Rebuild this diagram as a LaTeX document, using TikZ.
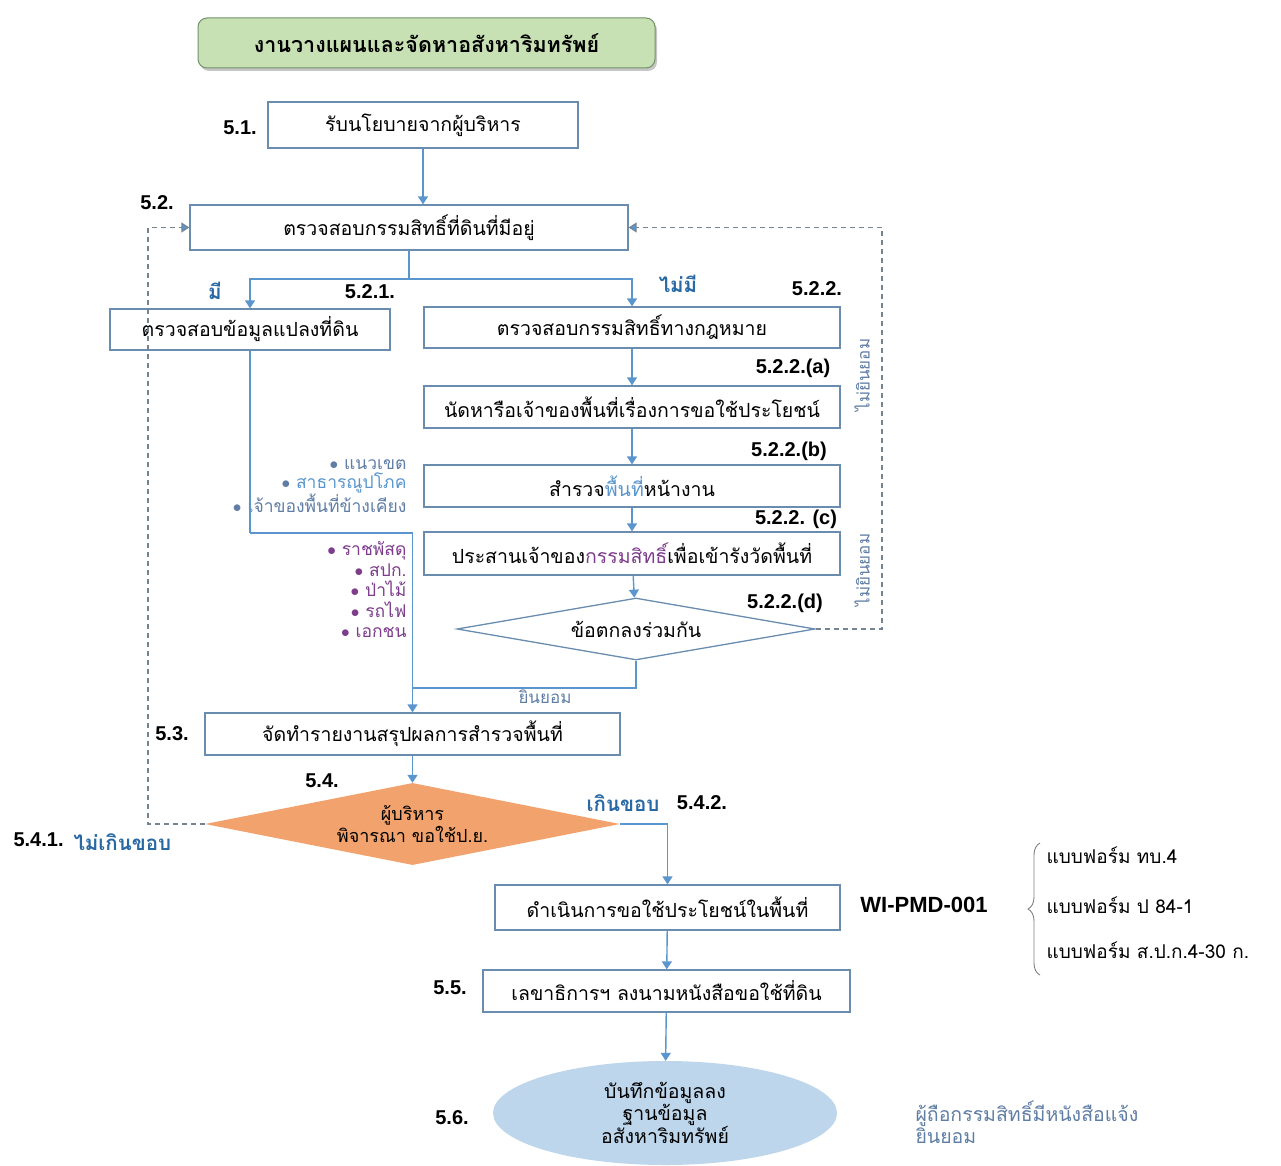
\documentclass[tikz,border=0pt]{standalone}
\usepackage{fontspec}
\setmainfont[Script=Thai]{Loma}
\newfontfamily\numfont{Liberation Sans}
\definecolor{boxline}{RGB}{105, 140, 175}
\definecolor{flowblue}{RGB}{90, 150, 205}
\definecolor{labelblue}{RGB}{40, 105, 165}
\definecolor{softblue}{RGB}{95, 125, 165}
\definecolor{ownerpurple}{RGB}{125, 60, 140}
\definecolor{titlegreen}{RGB}{200, 225, 180}
\definecolor{titleedge}{RGB}{115, 145, 105}
\definecolor{decideorange}{RGB}{242, 162, 108}
\definecolor{recordblue}{RGB}{190, 214, 236}
\usetikzlibrary{shapes.geometric, arrows.meta, shadows, decorations.pathreplacing}
\newcommand{\flowsize}{\fontsize{19.5}{22}\selectfont}

\begin{document}
\begin{tikzpicture}[x=1pt, y=-1pt,
  stepbox/.style={draw=boxline, line width=1.3pt, fill=white, inner sep=0pt, font=\flowsize},
  flow/.style={draw=flowblue, line width=1.4pt},
  flowarrow/.style={flow, -{Triangle[width=10pt, length=8pt]}},
  backflow/.style={draw=gray!60!boxline, line width=1.1pt, dash pattern=on 5pt off 4pt, -{Triangle[width=10pt, length=8pt, fill=flowblue]}},
  steplabel/.style={font=\numfont\bfseries\fontsize{20}{22}\selectfont},
  sublabel/.style={font=\numfont\bfseries\fontsize{20}{22}\selectfont},
  branchlabel/.style={font=\bfseries\fontsize{20.5}{22}\selectfont, text=labelblue}]
  \path[use as bounding box] (0,0) rectangle (1281,1166);

  % Title
  \node[draw=titleedge, fill=titlegreen, rounded corners=9pt, line width=1pt, minimum width=457pt, minimum height=50pt,
        drop shadow={opacity=0.45, shadow xshift=2pt, shadow yshift=-3pt},
        font=\bfseries\fontsize{21.5}{24}\selectfont] (title) at (426.5, 43) {งานวางแผนและจัดหาอสังหาริมทรัพย์};

  % 5.1 and 5.2
  \node[stepbox, minimum width=310pt, minimum height=46pt] (s51) at (423, 125) {รับนโยบายจากผู้บริหาร};
  \node[steplabel] (n51) at (240, 128) {5.1.};
  \node[stepbox, minimum width=438pt, minimum height=45pt] (s52) at (409, 227.5) {ตรวจสอบกรรมสิทธิ์ที่ดินที่มีอยู่};
  \node[steplabel] (n52) at (157, 203) {5.2.};

  % 5.2.1 / 5.2.2 branches
  \node[stepbox, minimum width=280pt, minimum height=41pt] (s521) at (250, 329.5) {ตรวจสอบข้อมูลแปลงที่ดิน};
  \node[steplabel] (n521) at (370, 292) {5.2.1.};
  \node[branchlabel] (yes) at (215, 291) {มี};
  \node[stepbox, minimum width=416pt, minimum height=41pt] (s522) at (632, 327.5) {ตรวจสอบกรรมสิทธิ์ทางกฎหมาย};
  \node[steplabel] (n522) at (817, 289) {5.2.2.};
  \node[branchlabel] (no) at (678, 284) {ไม่มี};

  \node[stepbox, minimum width=416pt, minimum height=42pt] (s522a) at (632, 407) {นัดหารือเจ้าของพื้นที่เรื่องการขอใช้ประโยชน์};
  \node[sublabel] (n522a) at (793, 368) {5.2.2.(a)};
  \node[stepbox, minimum width=416pt, minimum height=42pt] (s522b) at (632, 486) {สำรวจ\textcolor{flowblue}{พื้นที่}หน้างาน};
  \node[sublabel] (n522b) at (789, 451) {5.2.2.(b)};
  \node[stepbox, minimum width=416pt, minimum height=43pt] (s522c) at (632, 553.5) {ประสานเจ้าของ\textcolor{ownerpurple}{กรรมสิทธิ์}เพื่อเข้ารังวัดพื้นที่};
  \node[sublabel] (n522c) at (796, 519) {5.2.2. (c)};
  \node[stepbox, shape=diamond, aspect=5.77, minimum width=358pt, minimum height=62pt] (s522d) at (636, 629) {ข้อตกลงร่วมกัน};
  \node[sublabel] (n522d) at (785, 603) {5.2.2.(d)};

  % Side notes
  \node[anchor=east, align=right, font=\fontsize{17.5}{19}\selectfont, text=softblue] (survey) at (410, 486)
    {$\bullet$ แนวเขต\\ $\bullet$ \textcolor{flowblue}{สาธารณูปโภค}\\ $\bullet$ เจ้าของพื้นที่ข้างเคียง};
  \node[anchor=east, align=right, font=\fontsize{17.5}{20.5}\selectfont, text=ownerpurple] (owners) at (410, 590)
    {$\bullet$ ราชพัสดุ\\ $\bullet$ สปก.\\ $\bullet$ ป่าไม้\\ $\bullet$ รถไฟ\\ $\bullet$ เอกชน};
  \node[font=\fontsize{17}{19}\selectfont, text=softblue, rotate=90] (refuse1) at (862, 375) {ไม่ยินยอม};
  \node[font=\fontsize{17}{19}\selectfont, text=softblue, rotate=90] (refuse2) at (862, 570) {ไม่ยินยอม};
  \node[font=\fontsize{17}{19}\selectfont, text=softblue] (agree) at (545, 697) {ยินยอม};

  % 5.3 and 5.4
  \node[stepbox, minimum width=415pt, minimum height=42pt] (s53) at (412.5, 734) {จัดทำรายงานสรุปผลการสำรวจพื้นที่};
  \node[steplabel] (n53) at (172, 734) {5.3.};
  \node[shape=diamond, aspect=5.06, fill=decideorange, inner sep=0pt, minimum width=415pt, minimum height=82pt, align=center,
        font=\fontsize{18}{20}\selectfont] (s54) at (412.5, 824) {ผู้บริหาร\\พิจารณา ขอใช้ป.ย.};
  \node[steplabel] (n54) at (322, 781) {5.4.};
  \node[steplabel, anchor=west] (n541) at (10, 840) {5.4.1.};
  \node[branchlabel, anchor=west] (inside) at (70, 842) {ไม่เกินขอบ};
  \node[branchlabel] (outside) at (623, 803) {เกินขอบ};
  \node[steplabel] (n542) at (702, 803) {5.4.2.};

  % 5.4.2 to 5.6
  \node[stepbox, minimum width=345pt, minimum height=45pt] (s542) at (667.5, 907.5) {ดำเนินการขอใช้ประโยชน์ในพื้นที่};
  \node[font=\numfont\bfseries\fontsize{22}{24}\selectfont] (wi) at (924, 905) {WI-PMD-001};
  \node[anchor=west, font=\fontsize{19}{21}\selectfont] (form1) at (1043, 855) {แบบฟอร์ม ทบ.4};
  \node[anchor=west, font=\fontsize{19}{21}\selectfont] (form2) at (1043, 905) {แบบฟอร์ม ป 84-1};
  \node[anchor=west, font=\fontsize{19}{21}\selectfont] (form3) at (1043, 950) {แบบฟอร์ม ส.ป.ก.4-30 ก.};
  \draw[gray, line width=0.9pt, decorate, decoration={brace, amplitude=12pt}] (1040, 975) -- (1040, 843);

  \node[stepbox, minimum width=367pt, minimum height=42pt] (s55) at (666.5, 991) {เลขาธิการฯ ลงนามหนังสือขอใช้ที่ดิน};
  \node[steplabel] (n55) at (450, 988) {5.5.};
  \node[shape=ellipse, fill=recordblue, inner sep=0pt, minimum width=344pt, minimum height=104pt, align=center,
        font=\fontsize{19.5}{20}\selectfont] (s56) at (665, 1113) {บันทึกข้อมูลลง\\ฐานข้อมูล\\อสังหาริมทรัพย์};
  \node[steplabel] (n56) at (452, 1118) {5.6.};
  \node[anchor=west, align=left, font=\fontsize{19.5}{18}\selectfont, text=softblue] (notice) at (912, 1122)
    {ผู้ถือกรรมสิทธิ์มีหนังสือแจ้ง\\ยินยอม};

  % Connectors
  \coordinate (split) at (409, 279);
  \coordinate (merge) at (250, 533);
  \coordinate (join) at (412.5, 688);
  \coordinate (leftback) at (148, 227.5);
  \coordinate (rightback) at (882, 227.5);

  \draw[flowarrow] (s51.south) -- (s51.south |- s52.north);
  \draw[flow] (s52.south) -- (split);
  \draw[flowarrow] (split) -| (s521.north);
  \draw[flowarrow] (split) -| (s522.north);
  \draw[flowarrow] (s522) -- (s522a);
  \draw[flowarrow] (s522a) -- (s522b);
  \draw[flowarrow] (s522b) -- (s522c);
  \draw[flowarrow] (s522c) -- (s522d);
  \draw[flow] (s521.south) -- (merge);
  \draw[flowarrow] (merge) -| (s53.north);
  \draw[flow] (s522d.south) |- (join);
  \draw[flowarrow] (s53) -- (s54);
  \draw[flowarrow] (s54.east) -| (s542.north);
  \draw[flowarrow] (s542) -- (s55);
  \draw[flowarrow] (s55) -- (s56);
  \draw[backflow] (s54.west) -| (leftback) -- (s52.west);
  \draw[backflow] (s522d.east) -| (rightback) -- (s52.east);
\end{tikzpicture}
\end{document}
